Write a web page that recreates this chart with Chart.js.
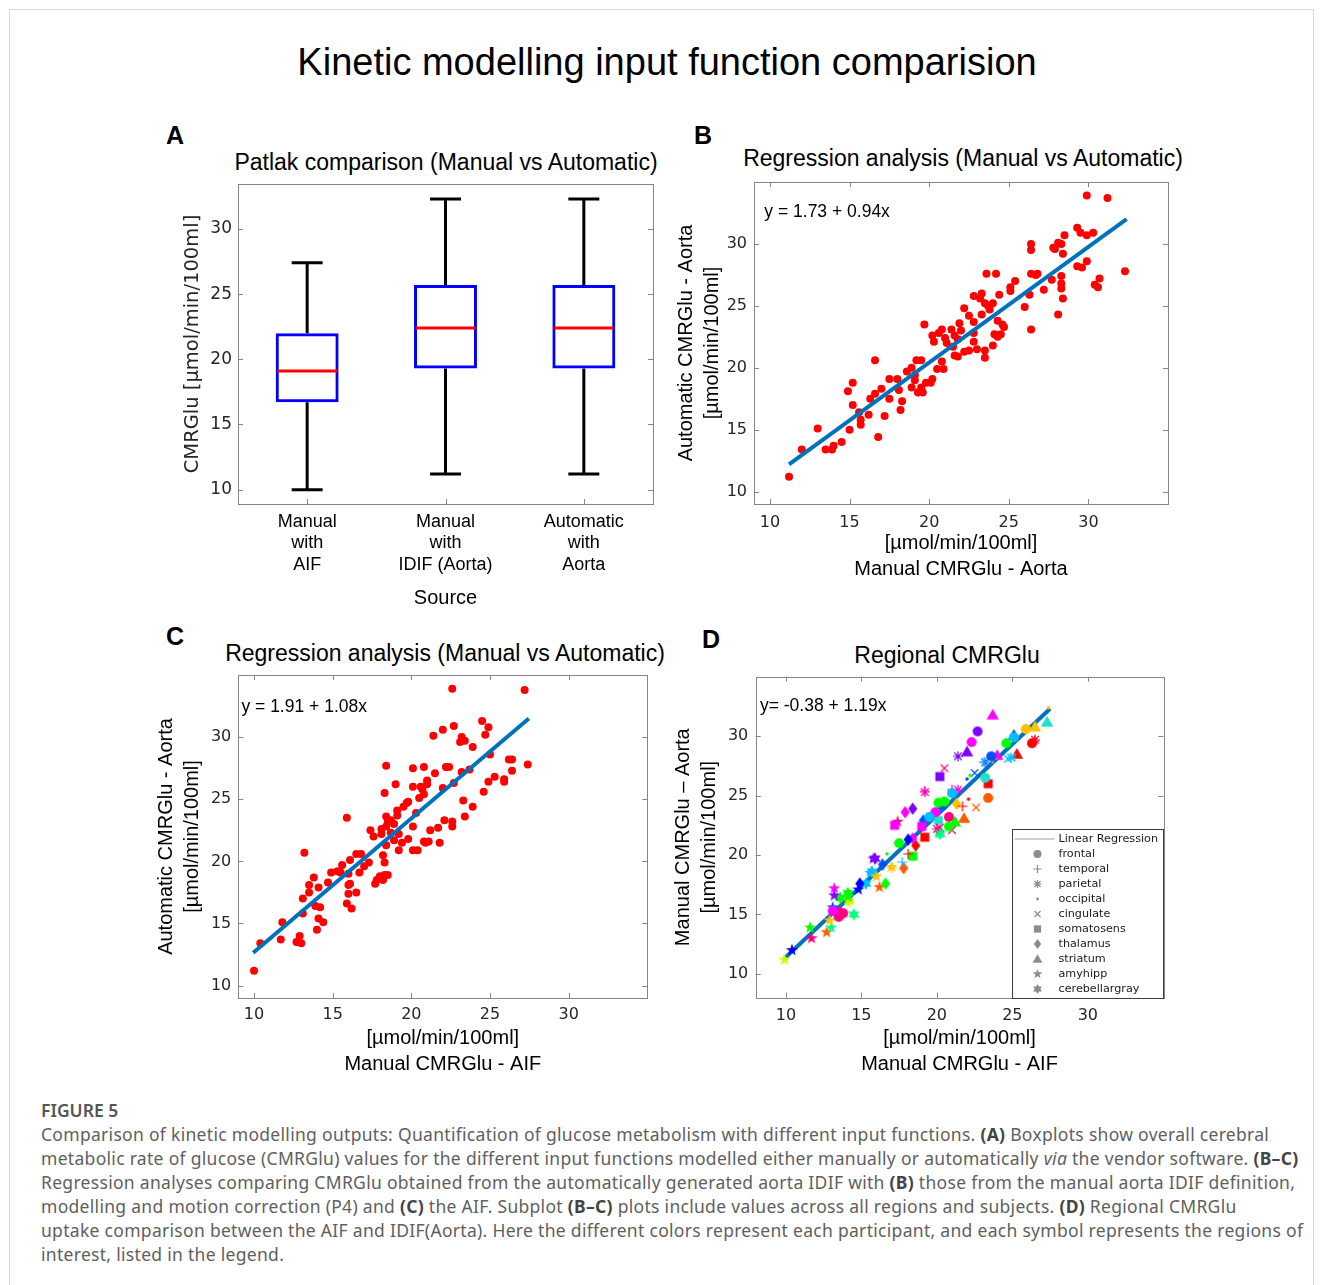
<!DOCTYPE html>
<html>
<head>
<meta charset="utf-8">
<title>Kinetic modelling input function comparision</title>
<script src="https://cdn.jsdelivr.net/npm/chart.js@4.4.1/dist/chart.umd.min.js"></script>
<style>
  body { margin: 0; width: 1322px; height: 1285px; position: relative; overflow: hidden; background: #fff; font-family: 'Liberation Sans', Arial, sans-serif; }
  .card { position: absolute; left: 9px; top: 9px; width: 1303px; height: 1320px; border: 1px solid #d6d6d6; }
  .t { position: absolute; white-space: nowrap; line-height: 1; transform: translate(-50%, -50%); color: #000; }
  .main-title { font-size: 38px; }
  .panel-title { font-size: 23px; }
  .letter { font-size: 25px; font-weight: bold; }
  .plot { position: absolute; }
  .caption { position: absolute; left: 41px; top: 1098px; font-family: 'Noto Sans', sans-serif; font-size: 17.5px; letter-spacing: 0.3px; color: #606060; white-space: nowrap; line-height: 24px; }
  .caption .fig { color: #555; font-weight: 600; letter-spacing: 0; }
  .caption b { color: #444; }
</style>
</head>
<body>
<div class="card"></div>
<div class="t main-title" style="left:667px;top:62px">Kinetic modelling input function comparision</div>

<div class="t letter" style="left:175px;top:135px">A</div>
<div class="t letter" style="left:703px;top:135px">B</div>
<div class="t letter" style="left:175px;top:636px">C</div>
<div class="t letter" style="left:711px;top:639px">D</div>

<div class="t panel-title" style="left:446px;top:162px">Patlak comparison (Manual vs Automatic)</div>
<div class="t panel-title" style="left:963px;top:158px">Regression analysis (Manual vs Automatic)</div>
<div class="t panel-title" style="left:445px;top:653px">Regression analysis (Manual vs Automatic)</div>
<div class="t panel-title" style="left:947px;top:655px">Regional CMRGlu</div>

<canvas id="chartA" class="plot" width="520" height="490" style="left:150px;top:130px"></canvas>
<canvas id="chartB" class="plot" width="520" height="470" style="left:670px;top:130px"></canvas>
<canvas id="chartC" class="plot" width="520" height="470" style="left:150px;top:620px"></canvas>
<canvas id="chartD" class="plot" width="520" height="470" style="left:670px;top:620px"></canvas>

<div class="caption">
  <div class="fig">FIGURE 5</div>
  <div>Comparison of kinetic modelling outputs: Quantification of glucose metabolism with different input functions. <b>(A)</b> Boxplots show overall cerebral</div>
  <div>metabolic rate of glucose (CMRGlu) values for the different input functions modelled either manually or automatically <i>via</i> the vendor software. <b>(B–C)</b></div>
  <div>Regression analyses comparing CMRGlu obtained from the automatically generated aorta IDIF with <b>(B)</b> those from the manual aorta IDIF definition,</div>
  <div>modelling and motion correction (P4) and <b>(C)</b> the AIF. Subplot <b>(B–C)</b> plots include values across all regions and subjects. <b>(D)</b> Regional CMRGlu</div>
  <div>uptake comparison between the AIF and IDIF(Aorta). Here the different colors represent each participant, and each symbol represents the regions of</div>
  <div>interest, listed in the legend.</div>
</div>

<script>
// ---- Panel A: boxplots
const boxCategories = [['Manual', 'with', 'AIF'], ['Manual', 'with', 'IDIF (Aorta)'], ['Automatic', 'with', 'Aorta']];
const whiskerLow = [10.0, 11.2, 11.2];
const quartile1 = [16.7, 19.3, 19.3];
const medians = [19.1, 22.4, 22.4];
const quartile3 = [22.0, 25.7, 25.7];
const whiskerHigh = [27.4, 32.3, 32.3];

const valueTicks = [10, 15, 20, 25, 30];

// ---- Panel B: automatic vs manual (aorta)
const bX = [11.2, 12.0, 13.0, 13.5, 13.9, 14.0, 14.5, 14.9, 15.0, 15.2, 15.2, 15.6, 15.7, 15.7, 16.2, 16.3, 16.6, 16.6, 16.8, 17.0,
  17.2, 17.5, 17.5, 18.0, 18.1, 18.2, 18.3, 18.6, 18.9, 18.9, 19.1, 19.1, 19.2, 19.5, 19.3, 19.6, 19.5, 19.8, 19.7, 20.2,
  20.1, 20.2, 20.3, 20.5, 20.8, 20.6, 20.8, 20.9, 21.0, 21.1, 21.4, 21.5, 21.6, 21.6, 21.8, 21.8, 21.9, 22.0, 22.2, 22.2,
  22.5, 22.5, 22.8, 22.8, 22.8, 22.8, 23.0, 23.2, 23.3, 23.3, 23.5, 23.5, 23.5, 23.6, 23.7, 23.8, 24.0, 24.0, 24.1, 24.2,
  24.3, 24.3, 24.4, 24.5, 24.6, 24.7, 25.1, 25.1, 25.4, 26.0, 26.3, 26.4, 26.4, 26.4, 26.4, 26.7, 26.8, 27.2, 27.7, 27.8,
  27.9, 28.1, 28.1, 28.3, 28.3, 28.3, 28.3, 28.4, 28.4, 28.5, 29.3, 29.5, 29.3, 29.6, 29.9, 29.9, 29.9, 30.3, 30.4, 30.6,
  30.7, 31.2, 32.3];
const bY = [11.2, 13.4, 15.1, 13.4, 13.4, 13.7, 14.0, 18.1, 15.0, 18.8, 17.0, 16.4, 15.8, 15.4, 16.2, 17.5, 20.6, 17.9, 14.4, 18.3,
  16.1, 19.1, 17.5, 19.1, 18.2, 16.6, 17.3, 19.7, 20.0, 18.4, 19.4, 19.0, 20.6, 20.6, 18.0, 18.0, 18.4, 18.8, 23.5, 19.1,
  18.8, 22.6, 22.1, 19.9, 20.5, 22.8, 23.1, 19.9, 22.4, 22.0, 23.1, 21.7, 21.0, 22.6, 22.3, 20.9, 23.6, 23.0, 21.3, 24.8,
  24.2, 21.4, 23.7, 22.8, 22.1, 25.8, 21.5, 25.6, 26.0, 24.3, 20.8, 21.4, 25.2, 27.6, 25.0, 24.7, 25.2, 21.8, 22.7, 27.6,
  23.8, 22.5, 25.9, 22.7, 23.5, 23.3, 26.5, 26.2, 27.0, 24.9, 25.9, 23.1, 30.0, 29.5, 27.6, 27.5, 27.6, 26.3, 27.1, 29.7,
  29.6, 24.3, 30.1, 30.0, 27.4, 26.8, 26.4, 29.2, 25.6, 30.7, 31.3, 30.9, 28.2, 28.1, 33.9, 30.7, 28.6, 30.9, 26.7, 26.5,
  27.2, 33.7, 27.8];
const bFitX = [11.2, 32.4];
const bFitY = [12.2, 32.0];
const bEquation = 'y = 1.73 + 0.94x';

// ---- Panel C: automatic (aorta) vs manual (AIF)
const cX = [10.0, 10.4, 11.7, 11.8, 12.7, 12.9, 13.0, 13.1, 13.1, 13.2, 13.5, 13.5, 13.8, 13.9, 14.0, 14.1, 14.1, 14.2, 14.4, 14.7,
  14.9, 15.3, 15.5, 15.6, 15.9, 16.0, 16.0, 16.0, 15.9, 16.1, 16.1, 16.2, 16.5, 16.5, 16.7, 16.8, 17.0, 17.3, 17.4, 17.6,
  17.7, 17.8, 18.0, 18.1, 18.1, 18.2, 18.3, 18.2, 18.3, 18.3, 18.4, 18.4, 18.4, 18.4, 18.5, 18.5, 18.7, 18.7, 18.9, 18.9,
  19.0, 19.1, 19.1, 19.2, 19.2, 19.4, 19.5, 19.7, 19.8, 19.8, 20.1, 20.1, 20.1, 20.1, 20.3, 20.4, 20.5, 20.6, 20.7, 20.8,
  20.8, 20.8, 20.9, 21.1, 21.0, 21.0, 21.2, 21.4, 21.5, 21.7, 21.8, 22.0, 22.0, 22.1, 22.2, 22.4, 22.6, 22.6, 22.6, 22.7,
  22.7, 23.1, 23.2, 23.3, 23.4, 23.2, 23.4, 23.7, 23.9, 23.9, 24.5, 24.6, 24.7, 24.9, 24.9, 25.0, 25.3, 25.9, 25.9, 26.2,
  26.4, 26.4, 27.2, 27.4];
const cY = [11.2, 13.4, 13.7, 15.1, 13.5, 14.0, 13.4, 17.0, 15.8, 20.7, 18.1, 17.5, 18.7, 16.4, 14.5, 17.9, 15.4, 16.3, 15.1, 18.3,
  19.1, 19.2, 19.1, 19.7, 23.5, 19.0, 18.1, 17.4, 16.6, 20.1, 18.2, 16.2, 17.5, 20.6, 19.1, 20.6, 19.6, 19.9, 22.5, 22.0,
  18.2, 18.5, 18.8, 22.6, 22.2, 20.5, 19.9, 18.5, 18.9, 25.5, 23.6, 21.3, 22.8, 27.7, 18.9, 23.2, 23.3, 22.3, 21.7, 23.0,
  26.2, 24.1, 23.7, 20.9, 22.2, 21.5, 24.4, 24.7, 21.8, 24.8, 26.0, 27.5, 22.8, 20.9, 23.9, 20.9, 25.1, 26.0, 25.8, 27.6,
  25.4, 21.6, 21.5, 21.6, 26.5, 26.2, 22.5, 30.1, 27.1, 22.7, 21.5, 30.6, 25.9, 23.3, 27.6, 27.6, 23.2, 22.8, 33.9, 30.9,
  26.3, 29.6, 30.0, 24.9, 23.6, 27.2, 29.7, 27.4, 29.2, 24.4, 31.3, 25.6, 30.2, 26.4, 30.8, 28.6, 26.8, 26.6, 26.4, 28.2,
  28.2, 27.3, 33.8, 27.8];
const cFitX = [9.95, 27.47];
const cFitY = [12.65, 31.5];
const cEquation = 'y = 1.91 + 1.08x';

// ---- Panel D: regional values, one colour per participant, one marker per region
const participantColors = ['#ff0000', '#ff5a00', '#ffc000', '#c8ff00', '#00ff00', '#00ff80', '#20e0c8',
  '#00c0ff', '#0050ff', '#0000ff', '#8000ff', '#ff00ff', '#ff0080'];
const regionNames = ['frontal', 'temporal', 'parietal', 'occipital', 'cingulate', 'somatosens', 'thalamus', 'striatum', 'amyhipp', 'cerebellargray'];
const regionMarkers = ['circle', 'plus', 'asterisk', 'dot', 'cross', 'square', 'diamond', 'triangle', 'pentagram', 'hexagram'];

const frontalX = [22.7, 22.3, 26.3, 25.9, 24.6, 23.6, 23.2, 23.4, 21.0, 20.8, 19.9, 20.8, 19.5, 17.5, 20.1, 20.5, 25.1, 13.8, 13.5, 13.1];
const frontalY = [30.4, 29.5, 29.4, 30.6, 29.4, 28.3, 26.5, 24.8, 25.2, 23.2, 23.6, 22.4, 23.2, 21.0, 24.4, 24.5, 29.9, 15.1, 14.8, 15.3];
const frontalP = [10, 11, 0, 2, 4, 8, 6, 1, 7, 12, 11, 4, 7, 4, 4, 4, 7, 12, 12, 11];
const temporalX = [21.7, 18.1, 17.7, 17.0, 19.2, 23.1, 26.5, 21.0, 23.7];
const temporalY = [24.1, 20.1, 19.4, 18.9, 25.4, 27.8, 29.6, 25.5, 28.1];
const temporalP = [0, 0, 7, 2, 11, 7, 12, 11, 2];
const parietalX = [21.4, 19.2, 20.0, 20.2, 23.2, 26.5, 21.4, 24.9];
const parietalY = [28.3, 25.3, 22.2, 21.8, 27.8, 29.7, 25.5, 28.2];
const parietalP = [10, 12, 12, 5, 8, 0, 11, 7];
const occipitalX = [22.1, 22.0, 22.2, 16.7, 27.4, 20.3];
const occipitalY = [24.7, 26.4, 26.7, 20.1, 32.4, 21.9];
const occipitalP = [0, 8, 4, 4, 2, 5];
const cingulateX = [20.5, 22.6, 24.7, 21.0, 20.2, 22.5, 25.0];
const cingulateY = [27.3, 24.0, 28.1, 22.1, 22.3, 26.9, 28.2];
const cingulateP = [12, 1, 7, 12, 12, 8, 6];
const somatosensX = [20.2, 23.4, 17.2, 20.3, 20.1, 19.2, 18.4, 19.0];
const somatosensY = [26.6, 26.0, 22.5, 24.2, 22.9, 21.5, 19.9, 22.4];
const somatosensP = [10, 0, 11, 8, 6, 0, 4, 11];
const thalamusX = [18.4, 17.8, 16.6, 21.3, 18.6, 18.4, 17.9, 19.1, 16.4, 14.9, 18.1, 13.6];
const thalamusY = [23.9, 18.9, 17.6, 24.3, 20.8, 21.4, 23.6, 22.9, 19.2, 17.6, 21.3, 15.2];
const thalamusP = [10, 1, 4, 2, 0, 11, 11, 8, 8, 9, 9, 12];
const striatumX = [23.7, 22.0, 25.3, 26.5, 27.3, 21.8, 21.2, 24.0, 25.1];
const striatumY = [31.8, 28.7, 28.5, 30.8, 31.2, 23.1, 22.8, 28.4, 30.1];
const striatumP = [11, 10, 0, 2, 6, 1, 4, 11, 8];
const amyhippX = [9.9, 10.4, 11.6, 11.7, 12.7, 13.0, 12.9, 13.2, 13.2, 13.1, 14.1, 14.8, 15.6, 16.2, 16.0, 15.8, 17.4, 17.0];
const amyhippY = [11.2, 12.0, 13.9, 13.0, 13.5, 13.9, 14.5, 17.2, 16.6, 15.6, 16.5, 17.1, 18.5, 17.3, 18.2, 19.7, 22.8, 19.0];
const amyhippP = [3, 9, 4, 12, 1, 5, 2, 11, 10, 8, 4, 9, 7, 1, 2, 10, 12, 2];
const cerebellarX = [14.5, 13.6, 14.2, 15.7, 15.9, 20.2, 15.3, 14.1, 13.5];
const cerebellarY = [15.0, 16.4, 16.1, 18.6, 19.7, 21.8, 17.6, 16.8, 15.0];
const cerebellarP = [5, 4, 3, 7, 10, 5, 7, 4, 12];
const dFitX = [9.9, 27.5];
const dFitY = [11.3, 32.3];
const dEquation = 'y= -0.38 + 1.19x';
const fitLabel = 'Linear Regression';

const regionSeries = [
  [frontalX, frontalY, frontalP], [temporalX, temporalY, temporalP], [parietalX, parietalY, parietalP],
  [occipitalX, occipitalY, occipitalP], [cingulateX, cingulateY, cingulateP], [somatosensX, somatosensY, somatosensP],
  [thalamusX, thalamusY, thalamusP], [striatumX, striatumY, striatumP], [amyhippX, amyhippY, amyhippP],
  [cerebellarX, cerebellarY, cerebellarP],
];

// ---------------------------------------------------------------
Chart.defaults.animation = false;
Chart.defaults.color = '#262626';

const FIT_BLUE = '#0072bd';
const TICK_FONT = { family: 'DejaVu Sans', size: 16 };

function toPoints(xs, ys) {
  return xs.map((x, i) => ({ x, y: ys[i] }));
}

function fixedSize(size) {
  return (scale) => {
    if (scale.isHorizontal()) scale.height = size;
    else scale.width = size;
  };
}

function setTicks(values) {
  return (scale) => {
    scale.ticks = values.map((value) => ({ value }));
  };
}

// matlab style box with inward ticks
const framePlugin = {
  id: 'frame',
  afterDraw(chart, args, opts) {
    const { ctx, chartArea: a, scales } = chart;
    const len = 5;
    ctx.save();
    ctx.strokeStyle = '#858585';
    ctx.lineWidth = 1;
    ctx.strokeRect(Math.round(a.left) + 0.5, Math.round(a.top) + 0.5, Math.round(a.right - a.left), Math.round(a.bottom - a.top));
    ctx.beginPath();
    scales.y.ticks.forEach((t, i) => {
      const p = Math.round(scales.y.getPixelForTick(i)) + 0.5;
      ctx.moveTo(a.left, p); ctx.lineTo(a.left + len, p);
      ctx.moveTo(a.right, p); ctx.lineTo(a.right - len, p);
    });
    scales.x.ticks.forEach((t, i) => {
      const p = Math.round(scales.x.getPixelForTick(i)) + 0.5;
      ctx.moveTo(p, a.bottom); ctx.lineTo(p, a.bottom - len);
      if (opts.top) { ctx.moveTo(p, a.top); ctx.lineTo(p, a.top + len); }
    });
    ctx.stroke();
    ctx.restore();
  },
};

const equationPlugin = {
  id: 'equation',
  afterDraw(chart, args, opts) {
    if (!opts.text) return;
    const { ctx, scales: { x, y } } = chart;
    ctx.save();
    ctx.font = '17.5px "Liberation Sans"';
    ctx.fillStyle = '#000';
    ctx.textBaseline = 'middle';
    ctx.fillText(opts.text, x.getPixelForValue(opts.at[0]), y.getPixelForValue(opts.at[1]));
    ctx.restore();
  },
};

const whiskerPlugin = {
  id: 'whiskers',
  beforeDatasetsDraw(chart) {
    const { ctx, scales: { x, y } } = chart;
    const step = x.getPixelForTick(1) - x.getPixelForTick(0);
    ctx.save();
    ctx.lineWidth = 3;
    ctx.strokeStyle = '#000';
    ctx.beginPath();
    boxCategories.forEach((c, i) => {
      const cx = x.getPixelForTick(i);
      const cap = step * 0.112;
      const hi = y.getPixelForValue(whiskerHigh[i]);
      const lo = y.getPixelForValue(whiskerLow[i]);
      ctx.moveTo(cx, hi); ctx.lineTo(cx, y.getPixelForValue(quartile3[i]));
      ctx.moveTo(cx, lo); ctx.lineTo(cx, y.getPixelForValue(quartile1[i]));
      ctx.moveTo(cx - cap, hi); ctx.lineTo(cx + cap, hi);
      ctx.moveTo(cx - cap, lo); ctx.lineTo(cx + cap, lo);
    });
    ctx.stroke();
    ctx.restore();
  },
  afterDatasetsDraw(chart) {
    const { ctx, scales: { x, y } } = chart;
    const step = x.getPixelForTick(1) - x.getPixelForTick(0);
    ctx.save();
    ctx.lineWidth = 3;
    ctx.strokeStyle = '#ff0000';
    ctx.beginPath();
    medians.forEach((m, i) => {
      const cx = x.getPixelForTick(i);
      const half = step * 0.2275 - 1.5;
      const py = y.getPixelForValue(m);
      ctx.moveTo(cx - half, py); ctx.lineTo(cx + half, py);
    });
    ctx.stroke();
    ctx.restore();
  },
};

// markers for panel D
function drawMarker(g, style, x, y, color, k = 1) {
  g.save();
  g.fillStyle = color;
  g.strokeStyle = color;
  g.lineWidth = 1.2;
  g.beginPath();
  if (style === 'circle') {
    g.arc(x, y, 5 * k, 0, Math.PI * 2);
    g.fill();
  } else if (style === 'dot') {
    g.arc(x, y, 1.8 * k, 0, Math.PI * 2);
    g.fill();
  } else if (style === 'square') {
    const s = 4.5 * k;
    g.fillRect(x - s, y - s, 2 * s, 2 * s);
  } else if (style === 'diamond') {
    g.moveTo(x, y - 6.2 * k); g.lineTo(x + 4.6 * k, y); g.lineTo(x, y + 6.2 * k); g.lineTo(x - 4.6 * k, y);
    g.closePath(); g.fill();
  } else if (style === 'triangle') {
    g.moveTo(x, y - 6 * k); g.lineTo(x + 6.2 * k, y + 4.7 * k); g.lineTo(x - 6.2 * k, y + 4.7 * k);
    g.closePath(); g.fill();
  } else if (style === 'pentagram' || style === 'hexagram') {
    const n = style === 'pentagram' ? 5 : 6;
    const outer = 6.4 * k;
    const inner = (style === 'pentagram' ? 2.6 : 3.6) * k;
    for (let i = 0; i < n * 2; i++) {
      const r = i % 2 ? inner : outer;
      const ang = -Math.PI / 2 + i * Math.PI / n;
      const px = x + r * Math.cos(ang), py = y + r * Math.sin(ang);
      if (i === 0) g.moveTo(px, py); else g.lineTo(px, py);
    }
    g.closePath(); g.fill();
  } else {
    const s = 5 * k;
    if (style === 'plus' || style === 'asterisk') {
      g.moveTo(x - s, y); g.lineTo(x + s, y); g.moveTo(x, y - s); g.lineTo(x, y + s);
    }
    if (style === 'cross' || style === 'asterisk') {
      const d = s * 0.75;
      g.moveTo(x - d, y - d); g.lineTo(x + d, y + d); g.moveTo(x - d, y + d); g.lineTo(x + d, y - d);
    }
    g.stroke();
  }
  g.restore();
}

const markerCache = {};
function markerCanvas(style, color) {
  const key = style + color;
  if (!markerCache[key]) {
    const c = document.createElement('canvas');
    c.width = 16; c.height = 16;
    drawMarker(c.getContext('2d'), style, 8, 8, color);
    markerCache[key] = c;
  }
  return markerCache[key];
}

const regionLegendPlugin = {
  id: 'regionLegend',
  afterDraw(chart) {
    const { ctx, chartArea: a } = chart;
    const left = Math.round(a.right - 151) + 0.5;
    const top = Math.round(a.top + 152) + 0.5;
    ctx.save();
    ctx.fillStyle = '#fff';
    ctx.fillRect(left, top, a.right - left, a.bottom - top);
    ctx.strokeStyle = '#3c3c3c';
    ctx.lineWidth = 1;
    ctx.strokeRect(left, top, Math.round(a.right) + 0.5 - left, Math.round(a.bottom) + 0.5 - top);
    ctx.font = '11.2px "DejaVu Sans"';
    ctx.textBaseline = 'middle';
    let y = top + 9.5;
    ctx.strokeStyle = '#a0a0a0';
    ctx.beginPath(); ctx.moveTo(left + 2, y); ctx.lineTo(left + 42, y); ctx.stroke();
    ctx.fillStyle = '#1a1a1a';
    ctx.fillText(fitLabel, left + 46, y);
    regionNames.forEach((name, i) => {
      y = top + 9.5 + 15 * (i + 1);
      drawMarker(ctx, regionMarkers[i], left + 25, y, '#8c8c8c', 0.8);
      ctx.fillStyle = '#1a1a1a';
      ctx.fillText(name, left + 46, y);
    });
    ctx.restore();
  },
};

function valueAxis(opts) {
  return {
    type: 'linear',
    position: opts.position,
    min: opts.min,
    max: opts.max,
    afterBuildTicks: setTicks(valueTicks),
    afterFit: fixedSize(opts.size),
    grid: { display: false, drawTicks: false },
    border: { display: false },
    ticks: { font: TICK_FONT, padding: opts.tickPad, autoSkip: false, maxRotation: 0, color: '#262626' },
    title: {
      display: true,
      text: opts.title,
      color: '#000',
      font: { family: 'Liberation Sans', size: 20, lineHeight: opts.lineHeight },
      padding: opts.titlePad,
    },
  };
}

// ---- A
new Chart(document.getElementById('chartA'), {
  type: 'bar',
  data: {
    labels: boxCategories,
    datasets: [{
      data: quartile1.map((q, i) => [q, quartile3[i]]),
      backgroundColor: 'rgba(0,0,0,0)',
      borderColor: '#0000ff',
      borderWidth: 3,
      borderSkipped: false,
      categoryPercentage: 1,
      barPercentage: 0.455,
    }],
  },
  options: {
    responsive: false,
    layout: { padding: { left: 0, top: 54, right: 17, bottom: 0 } },
    plugins: { legend: { display: false }, tooltip: { enabled: false }, frame: { top: false } },
    scales: {
      x: {
        afterFit: fixedSize(116),
        grid: { display: false, drawTicks: false },
        border: { display: false },
        ticks: { font: { family: 'Liberation Sans', size: 18, lineHeight: 1.2 }, padding: 7, color: '#000', maxRotation: 0, autoSkip: false },
        title: { display: true, text: 'Source', color: '#000', font: { family: 'Liberation Sans', size: 20, lineHeight: 1.2 }, padding: { top: 0, bottom: 9.7 } },
      },
      y: {
        min: 8.9,
        max: 33.45,
        afterBuildTicks: setTicks(valueTicks),
        afterFit: fixedSize(88),
        grid: { display: false, drawTicks: false },
        border: { display: false },
        ticks: { font: { family: 'DejaVu Sans', size: 17 }, padding: 6, color: '#262626' },
        title: { display: true, text: 'CMRGlu [µmol/min/100ml]', color: '#262626', font: { family: 'DejaVu Sans', size: 19.5, lineHeight: 1.2 }, padding: { top: 31.6, bottom: 0 } },
      },
    },
  },
  plugins: [whiskerPlugin, framePlugin],
});

// ---- B and C
function regressionChart(id, xs, ys, fitX, fitY, eq, eqAt, layout, xAxis, yAxis) {
  new Chart(document.getElementById(id), {
    type: 'scatter',
    data: {
      datasets: [
        { data: toPoints(fitX, fitY), showLine: true, borderColor: FIT_BLUE, borderWidth: 4, pointRadius: 0 },
        { data: toPoints(xs, ys), backgroundColor: '#ff0000', borderWidth: 0, pointRadius: 4 },
      ],
    },
    options: {
      responsive: false,
      layout: { padding: layout },
      plugins: { legend: { display: false }, tooltip: { enabled: false }, frame: { top: true }, equation: { text: eq, at: eqAt } },
      scales: { x: valueAxis(xAxis), y: valueAxis(yAxis) },
    },
    plugins: [framePlugin, equationPlugin],
  });
}

regressionChart('chartB', bX, bY, bFitX, bFitY, bEquation, [9.65, 32.6],
  { left: 0, top: 52, right: 22, bottom: 0 },
  { position: 'bottom', min: 9, max: 35, size: 96, tickPad: 9, title: ['[µmol/min/100ml]', 'Manual CMRGlu - Aorta'], lineHeight: 1.333, titlePad: { top: 0, bottom: 16.7 } },
  { position: 'left', min: 9, max: 35, size: 84, tickPad: 7, title: ['Automatic CMRGlu - Aorta', '[µmol/min/100ml]'], lineHeight: 1.3, titlePad: { top: 3, bottom: 0 } });

regressionChart('chartC', cX, cY, cFitX, cFitY, cEquation, [9.2, 32.45],
  { left: 0, top: 55, right: 22.7, bottom: 0 },
  { position: 'bottom', min: 9, max: 35, size: 92, tickPad: 7.4, title: ['[µmol/min/100ml]', 'Manual CMRGlu - AIF'], lineHeight: 1.333, titlePad: { top: 0, bottom: 11.7 } },
  { position: 'left', min: 9, max: 35, size: 88.3, tickPad: 7, title: ['Automatic CMRGlu - Aorta', '[µmol/min/100ml]'], lineHeight: 1.3, titlePad: { top: 3.7, bottom: 0 } });

// ---- D
const regionDatasets = regionSeries.map(([xs, ys, ps], r) => ({
  data: toPoints(xs, ys),
  pointRadius: 6,
  pointStyle: (ctx) => (ctx.dataIndex === undefined ? 'circle' : markerCanvas(regionMarkers[r], participantColors[ps[ctx.dataIndex]])),
}));

new Chart(document.getElementById('chartD'), {
  type: 'scatter',
  data: {
    datasets: [
      ...regionDatasets,
      { data: toPoints(dFitX, dFitY), showLine: true, borderColor: FIT_BLUE, borderWidth: 4, pointRadius: 0 },
    ],
  },
  options: {
    responsive: false,
    layout: { padding: { left: 0, top: 56.7, right: 26.7, bottom: 0 } },
    plugins: { legend: { display: false }, tooltip: { enabled: false }, frame: { top: true }, equation: { text: dEquation, at: [8.28, 32.5] } },
    scales: {
      x: valueAxis({ position: 'bottom', min: 8, max: 35, size: 92.3, tickPad: 8.4, title: ['[µmol/min/100ml]', 'Manual CMRGlu - AIF'], lineHeight: 1.333, titlePad: { top: 0, bottom: 11.7 } }),
      y: valueAxis({ position: 'left', min: 8, max: 35, size: 85.7, tickPad: 7.4, title: ['Manual CMRGlu – Aorta', '[µmol/min/100ml]'], lineHeight: 1.3, titlePad: { top: 0, bottom: 0 } }),
    },
  },
  plugins: [framePlugin, equationPlugin, regionLegendPlugin],
});
</script>
</body>
</html>
